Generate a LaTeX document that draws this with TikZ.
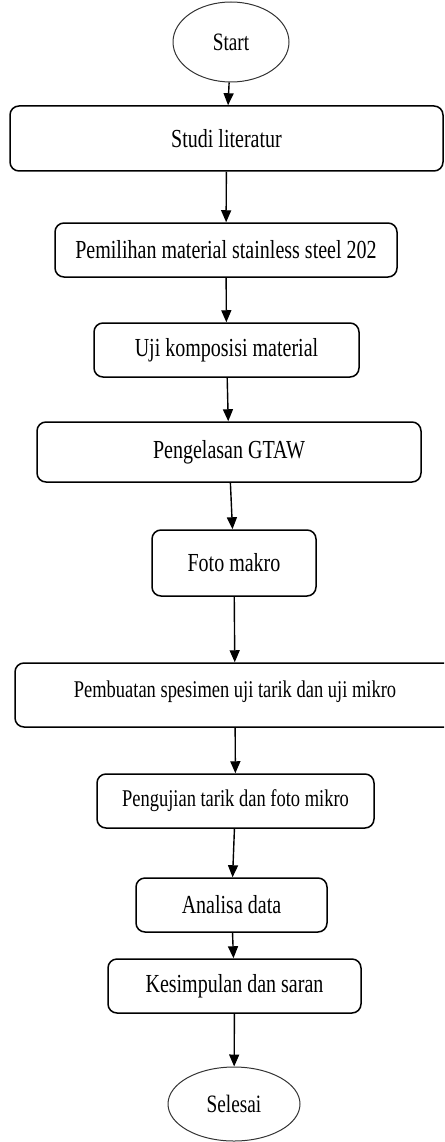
\documentclass[tikz,border=0pt]{standalone}
\usepackage{fontspec}
\setmainfont[FakeStretch=0.77]{Liberation Serif}
\usetikzlibrary{shapes.geometric,arrows.meta}

\tikzset{
  procbox/.style={draw=black,line width=1.5pt,rounded corners=9pt,rectangle,inner sep=0pt,font=\fontsize{26}{28}\selectfont},
  termbox/.style={draw=black!80,line width=1pt,ellipse,inner sep=0pt,font=\fontsize{25}{27}\selectfont},
  flow/.style={draw=black,line width=1.4pt,-{Triangle[length=12pt,width=10pt]}}
}

\begin{document}
\begin{tikzpicture}[x=1pt,y=-1pt]
\useasboundingbox (0,0) rectangle (444,1142);
\clip (0,0) rectangle (444,1142);
\node[termbox,minimum width=116pt,minimum height=80pt] (start) at (231,42) {Start};
\node[procbox,minimum width=433pt,minimum height=65pt] (studi) at (226.5,138.5) {Studi literatur};
\node[procbox,minimum width=342pt,minimum height=54pt] (pemilihan) at (226,250) {Pemilihan material stainless steel 202};
\node[procbox,minimum width=265pt,minimum height=54pt] (uji) at (226.5,350) {Uji komposisi material};
\node[procbox,minimum width=384pt,minimum height=60pt] (pengelasan) at (229,452) {Pengelasan GTAW};
\node[procbox,minimum width=164pt,minimum height=66pt] (foto) at (234,563) {Foto makro};
\node[procbox,minimum width=440pt,minimum height=64pt,text depth=12pt,font=\fontsize{24}{26}\selectfont] (pembuatan) at (235,695) {Pembuatan spesimen uji tarik dan uji mikro};
\node[procbox,minimum width=277pt,minimum height=54pt,font=\fontsize{24}{26}\selectfont] (pengujian) at (235.5,801) {Pengujian tarik dan foto mikro};
\node[procbox,minimum width=191pt,minimum height=54pt] (analisa) at (231.5,905) {Analisa data};
\node[procbox,minimum width=253pt,minimum height=54pt] (kesimpulan) at (234.5,986) {Kesimpulan dan saran};
\node[termbox,minimum width=132pt,minimum height=74pt] (selesai) at (234,1104) {Selesai};

\draw[flow] (start) -- (studi);
\draw[flow] (studi) -- (pemilihan);
\draw[flow] (pemilihan) -- (uji);
\draw[flow] (uji) -- (pengelasan);
\draw[flow] (pengelasan) -- (foto);
\draw[flow] (foto) -- (pembuatan);
\draw[flow] (pembuatan) -- (pengujian);
\draw[flow] (pengujian) -- (analisa);
\draw[flow] (analisa) -- (kesimpulan);
\draw[flow] (kesimpulan) -- (selesai);
\end{tikzpicture}
\end{document}
